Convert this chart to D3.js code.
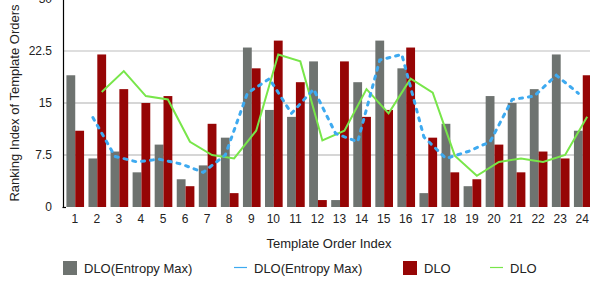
<!DOCTYPE html>
<html>
<head>
<meta charset="utf-8">
<script src="https://cdn.jsdelivr.net/npm/d3@7"></script>
<style>
  body { margin: 0; background: #fff; }
  svg { display: block; font-family: "Liberation Sans", Arial, Helvetica, sans-serif; }
</style>
</head>
<body>
<svg id="chart" width="590" height="288"></svg>
<script>
// template order index 1..24
const categories = d3.range(1, 25).map(String)

// bar series
const entropyBars = [19, 7, 8, 5, 9, 4, 6, 10, 23, 14, 13, 21, 1, 18, 24, 20, 2, 12, 3, 16, 15, 17, 22, 11]
const dloBars = [11, 22, 17, 15, 16, 3, 12, 2, 20, 24, 18, 1, 21, 13, 14, 23, 10, 5, 4, 9, 5, 8, 7, 19]

// line series (start at index 2)
const entropyLine = [null, 12.9, 7.3, 6.5, 6.9, 6.2, 5.0, 7.5, 16.4, 18.5, 13.5, 17.0, 10.6, 9.4, 21.2, 22.0, 10.1, 7.0, 8.0, 9.4, 15.5, 16.0, 19.0, 16.4]
const dloLine = [null, 16.6, 19.6, 16.0, 15.5, 9.4, 7.5, 7.0, 11.0, 22.0, 21.0, 9.6, 11.0, 17.0, 13.5, 18.5, 16.5, 7.4, 4.5, 6.5, 7.0, 6.5, 7.5, 13.0]

const yTicks = [0, 7.5, 15, 22.5, 30]

const svg = d3.select("#chart")

const x = d3.scaleBand()
  .domain(categories)
  .range([62, 596])
  .padding(0.2)

const xSub = d3.scaleBand()
  .domain(["entropy", "dlo"])
  .range([0, x.bandwidth()])

const y = d3.scaleLinear()
  .domain([0, 30])
  .range([207, -1])

// gridlines
svg.append("g")
  .selectAll("line")
  .data(yTicks.filter(d => d > 0 && d < 30))
  .enter().append("line")
    .attr("x1", 63)
    .attr("x2", 590)
    .attr("y1", d => y(d))
    .attr("y2", d => y(d))
    .attr("stroke", d => d == 22.5 ? "#bdbdbd" : "#d6d6d6")
    .attr("stroke-width", d => d == 22.5 ? 1.2 : 2)

// y axis
const yAxis = svg.append("g")
  .attr("transform", "translate(63,0)")
  .call(d3.axisLeft(y).tickValues(yTicks).tickSize(0).tickPadding(11).tickFormat(d => d))
yAxis.select(".domain").attr("stroke", "#000").attr("stroke-width", 1.2)
yAxis.selectAll("text").attr("font-size", 12).attr("fill", "#222").style("font-family", "inherit")

// bars
const groups = svg.append("g")
  .selectAll("g")
  .data(categories)
  .enter().append("g")
    .attr("transform", d => "translate(" + x(d) + ",0)")

groups.append("rect")
  .attr("x", xSub("entropy"))
  .attr("width", xSub.bandwidth())
  .attr("y", (d, i) => y(entropyBars[i]))
  .attr("height", (d, i) => y(0) - y(entropyBars[i]))
  .attr("fill", "#6e7370")

groups.append("rect")
  .attr("x", xSub("dlo"))
  .attr("width", xSub.bandwidth())
  .attr("y", (d, i) => y(dloBars[i]))
  .attr("height", (d, i) => y(0) - y(dloBars[i]))
  .attr("fill", "#960505")

// small corner at the bottom of the axis
svg.append("line")
  .attr("x1", 62.5).attr("x2", 66)
  .attr("y1", 207.5).attr("y2", 207.5)
  .attr("stroke", "#000").attr("stroke-width", 1.2)

// lines
const lineEntropy = d3.line()
  .defined(d => d != null)
  .x((d, i) => x(categories[i]) + xSub("entropy") + xSub.bandwidth() / 2)
  .y(d => y(d))

const lineDlo = d3.line()
  .defined(d => d != null)
  .x((d, i) => x(categories[i]) + xSub("dlo") + xSub.bandwidth() / 2)
  .y(d => y(d))

svg.append("path")
  .attr("d", lineDlo(dloLine))
  .attr("fill", "none")
  .attr("stroke", "#78e64a")
  .attr("stroke-width", 2)

svg.append("path")
  .attr("d", lineEntropy(entropyLine))
  .attr("fill", "none")
  .attr("stroke", "#3eaaf0")
  .attr("stroke-width", 3)
  .attr("stroke-dasharray", "3,6")
  .attr("stroke-linecap", "round")

// x labels
svg.append("g")
  .selectAll("text")
  .data(categories)
  .enter().append("text")
    .attr("x", d => x(d) + x.bandwidth() / 2 - 0.5)
    .attr("y", 223)
    .attr("text-anchor", "middle")
    .attr("font-size", 12)
    .attr("fill", "#222")
    .text(d => d)

// axis titles
svg.append("text")
  .attr("x", 329)
  .attr("y", 248)
  .attr("text-anchor", "middle")
  .attr("font-size", 13)
  .attr("fill", "#222")
  .text("Template Order Index")

svg.append("text")
  .attr("transform", "translate(19,103) rotate(-90)")
  .attr("text-anchor", "middle")
  .attr("font-size", 13)
  .attr("fill", "#222")
  .text("Ranking Index of Template Orders")

// legend
const legend = [
  {label: "DLO(Entropy Max)", type: "rect", color: "#6e7370", x: 63},
  {label: "DLO(Entropy Max)", type: "line", color: "#3eaaf0", x: 234},
  {label: "DLO", type: "rect", color: "#960505", x: 403},
  {label: "DLO", type: "line", color: "#78e64a", x: 490}
]

const leg = svg.append("g")
  .selectAll("g")
  .data(legend)
  .enter().append("g")
    .attr("transform", d => "translate(" + d.x + ",261)")

leg.filter(d => d.type == "rect").append("rect")
  .attr("width", 14).attr("height", 14)
  .attr("fill", d => d.color)

leg.filter(d => d.type == "line").append("line")
  .attr("x1", 0).attr("x2", 13)
  .attr("y1", 6.5).attr("y2", 6.5)
  .attr("stroke", d => d.color)
  .attr("stroke-width", 1.2)

leg.append("text")
  .attr("x", d => d.type == "rect" ? 21 : 20)
  .attr("y", 12)
  .attr("font-size", 13)
  .attr("fill", "#222")
  .text(d => d.label)
</script>
</body>
</html>
